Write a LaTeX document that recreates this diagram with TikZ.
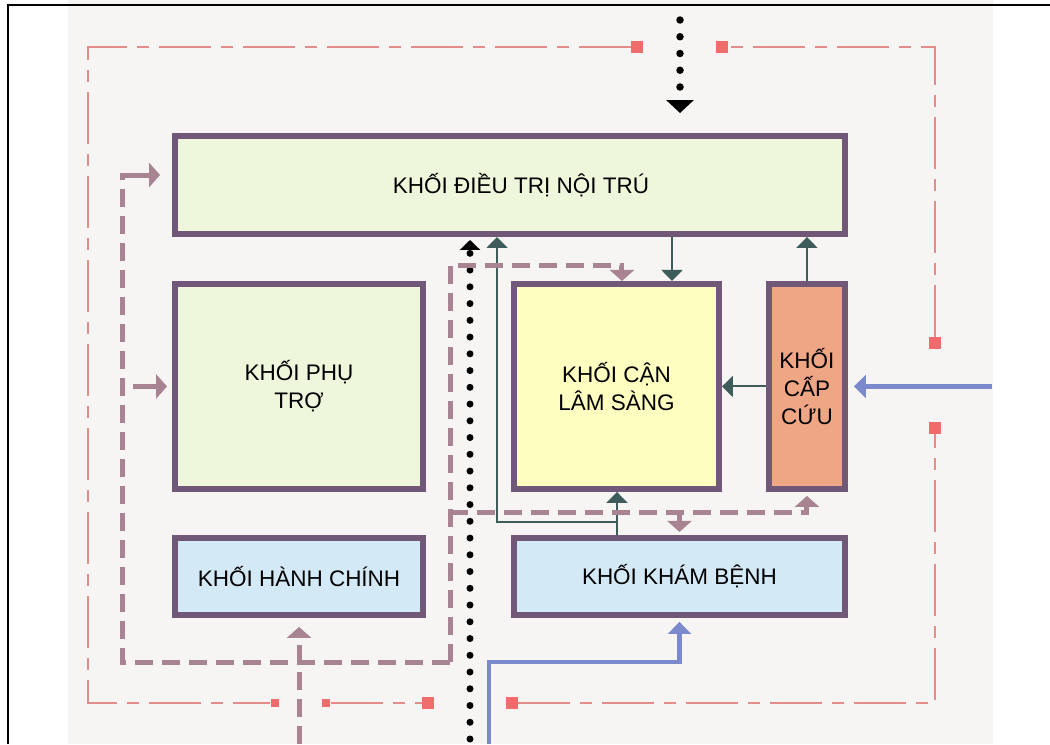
\documentclass[tikz,border=0pt]{standalone}
\usepackage{fontspec}
\setmainfont{Liberation Sans}
\usepackage{xcolor}
\usepackage{tikz}
\usetikzlibrary{arrows.meta,calc,positioning}
\definecolor{kpurple}{RGB}{114,88,120}
\definecolor{kgreen}{RGB}{238,246,219}
\definecolor{kyellow}{RGB}{254,254,192}
\definecolor{ksalmon}{RGB}{238,166,132}
\definecolor{kblue}{RGB}{212,233,246}
\definecolor{kteal}{RGB}{62,92,90}
\definecolor{kmauve}{RGB}{168,131,146}
\definecolor{kline}{RGB}{122,138,204}
\definecolor{kpink}{RGB}{226,140,140}
\definecolor{kred}{RGB}{238,108,108}
\definecolor{knen}{RGB}{246,245,244}
\tikzset{
  khoi/.style={rectangle,draw=kpurple,line width=0.12cm,inner sep=0pt,align=center,font=\fontsize{12.8}{16}\selectfont},
  tealarr/.style={draw=kteal,line width=0.04cm,-{Triangle[width=0.42cm,length=0.22cm]}},
  mauve/.style={draw=kmauve,line width=0.1cm,dash pattern=on 0.36cm off 0.18cm},
  mauvearr/.style={mauve,-{Triangle[width=0.48cm,length=0.22cm]}},
  bluearr/.style={draw=kline,line width=0.09cm,-{Triangle[width=0.46cm,length=0.24cm]}},
  dotline/.style={draw=black,line width=0.15cm,line cap=round,dash pattern=on 0pt off 0.335cm},
  ranh/.style={draw=kpink,line width=0.04cm,dash pattern=on 1.04cm off 0.2cm on 0.24cm off 0.2cm},
  moc/.style={rectangle,fill=kred,minimum size=0.24cm,inner sep=0pt},
  mocnho/.style={moc,minimum size=0.17cm},
}
\begin{document}
\begin{tikzpicture}[x=0.02cm,y=-0.02cm]
  \useasboundingbox (0,0) rectangle (1050,744);
  \fill[knen] (68,0) rectangle (993,744);
  \draw[line width=0.04cm] (1050,5) -- (8,5) -- (8,744);

  \node[khoi,fill=kgreen,minimum width=13.4cm,minimum height=1.96cm] (dieutri) at (510,185) {\hspace*{0.44cm}KHỐI ĐIỀU TRỊ NỘI TRÚ};
  \node[khoi,fill=kgreen,minimum width=4.96cm,minimum height=4.1cm,below=0.88cm of dieutri.south west,anchor=north west] (phutro) {KHỐI PHỤ\\TRỢ};
  \node[khoi,fill=kyellow,minimum width=4.1cm,minimum height=4.1cm,right=1.7cm of phutro.north east,anchor=north west] (canls) {KHỐI CẬN\\LÂM SÀNG};
  \node[khoi,fill=ksalmon,minimum width=1.52cm,minimum height=4.1cm,right=0.88cm of canls.north east,anchor=north west] (capcuu) {KHỐI\\CẤP\\CỨU};
  \node[khoi,fill=kblue,minimum width=4.96cm,minimum height=1.54cm,below=0.86cm of phutro.south west,anchor=north west] (hanhchinh) {KHỐI HÀNH CHÍNH};
  \node[khoi,fill=kblue,minimum width=6.62cm,minimum height=1.54cm,below=0.86cm of canls.south west,anchor=north west] (khambenh) {KHỐI KHÁM BỆNH};

  % ranh gioi
  \node[moc] (mocA) at (637,47) {};
  \node[moc] (mocH) at (722,47) {};
  \node[moc] (mocG) at (935,343) {};
  \node[moc] (mocF) at (935,428) {};
  \node[moc] (mocE) at (512,703) {};
  \node[moc] (mocD) at (428,703) {};
  \node[mocnho] (mocC) at (326,703) {};
  \node[mocnho] (mocB) at (275,703) {};
  \coordinate (goc1) at (88,47);
  \coordinate (goc2) at (88,703);
  \coordinate (goc3) at (935,703);
  \coordinate (goc4) at (935,47);
  \draw[ranh] (mocA) -- (goc1) -- (goc2) -- (mocB);
  \draw[ranh] (mocC) -- (mocD);
  \draw[ranh] (mocE) -- (goc3) -- (mocF);
  \draw[ranh] (mocG) -- (goc4) -- (mocH);

  % loi vao
  \coordinate (vaotren) at (680,20);
  \coordinate (vaoduoi) at (470,739);
  \draw[dotline,-{Triangle[width=0.54cm,length=0.26cm]},shorten >=0.4cm] (vaotren) -- (vaotren |- dieutri.north);
  \draw[dotline,line width=0.14cm,-{Triangle[width=0.4cm,length=0.2cm]},shorten >=0.06cm] (vaoduoi) -- (vaoduoi |- dieutri.south);

  % luong noi bo
  \coordinate (kbtach) at (617,522);
  \coordinate (tealx) at (497,0);
  \coordinate (tealc) at (672,0);
  \draw[tealarr] (khambenh.north -| kbtach) -- (canls.south -| kbtach);
  \draw[tealarr] (kbtach) -| (tealx |- dieutri.south);
  \draw[tealarr] (dieutri.south -| tealc) -- (canls.north -| tealc);
  \draw[tealarr] (capcuu.north) -- (capcuu.north |- dieutri.south);
  \draw[tealarr] (capcuu.west) -- (canls.east);

  % luong phu tro
  \coordinate (ml) at (122,662);
  \coordinate (mr) at (450,662);
  \coordinate (mt) at (450,265);
  \coordinate (mb) at (450,512);
  \coordinate (mlt) at (122,175);
  \coordinate (vaohc) at (300,744);
  \draw[mauve] (mr) -- (ml) -- (mlt);
  \draw[mauvearr,solid,line cap=rect,shorten >=0.24cm] (mlt) -- (mlt -| dieutri.west);
  \draw[mauvearr,solid,shorten >=0.1cm] ($(ml |- phutro.west)+(11,0)$) -- (phutro.west);
  \draw[mauvearr] (mr) -- (mt) -| ([xshift=0.11cm]canls.north);
  \draw[mauvearr,shorten >=0.08cm] (mb) -| (capcuu.south);
  \draw[mauvearr,shorten >=0.06cm] (mb -| khambenh.north) -- (khambenh.north);
  \draw[mauvearr,shorten >=0.18cm] (hanhchinh.south |- vaohc) -- (hanhchinh.south);

  % cap cuu, kham benh
  \coordinate (vaocc) at (992,388);
  \coordinate (vaokb) at (489,744);
  \coordinate (kbre) at (489,662);
  \draw[bluearr,shorten >=0.12cm] (capcuu.east -| vaocc) -- (capcuu.east);
  \draw[bluearr,shorten >=0.08cm] (vaokb) -- (kbre) -| (khambenh.south);
\end{tikzpicture}
\end{document}
